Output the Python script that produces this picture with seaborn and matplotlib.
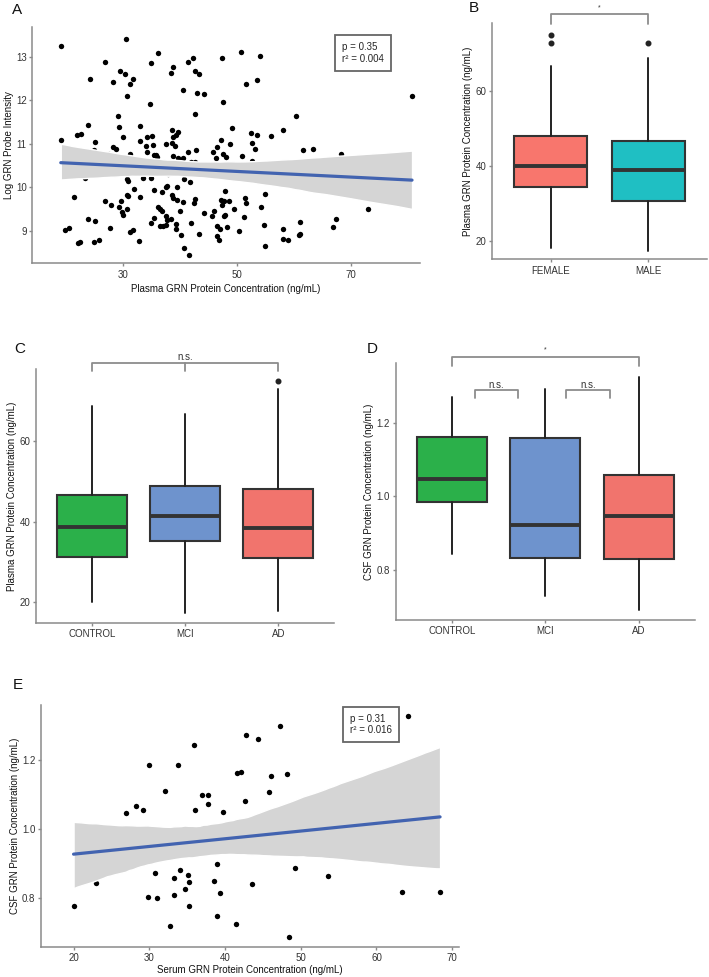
import numpy as np
import pandas as pd
import matplotlib
matplotlib.use('Agg')
import matplotlib.pyplot as plt
import seaborn as sns

# Panel A: plasma GRN vs log GRN probe intensity
a_plasma = [19.2, 30.6, 36.2, 26.8, 24.2, 29.5, 30.4, 31.2, 31.8, 28.2,
            30.7, 35.0, 38.5, 38.9, 41.5, 42.3, 42.7, 43.4, 40.5, 43.1,
            44.2, 47.4, 50.8, 54.1, 53.6, 51.7, 47.6, 34.7, 80.8, 60.4,
            42.6, 29.1, 29.3, 23.9, 33.0, 19.1, 21.9, 22.7, 30.0, 34.3,
            35.1, 38.6, 39.7, 38.8, 39.3, 49.2, 52.6, 53.5, 56.1, 58.1,
            25.1, 24.9, 28.3, 28.8, 31.2, 27.5, 33.0, 34.0, 34.3, 35.3,
            35.5, 36.0, 35.8, 37.5, 38.7, 39.1, 38.9, 39.7, 40.0, 40.6,
            41.5, 42.8, 42.0, 42.6, 45.8, 46.6, 47.2, 47.6, 48.2, 46.3,
            48.9, 50.9, 52.7, 53.2, 52.7, 61.7, 63.4, 68.4, 72.9, 23.3,
            33.5, 35.0, 30.8, 30.9, 38.0, 40.7, 41.8, 21.4, 31.9, 30.8,
            30.9, 33.0, 26.8, 29.7, 28.0, 29.4, 30.8, 29.9, 30.0, 35.4,
            36.8, 37.6, 37.8, 38.6, 39.5, 39.5, 40.6, 38.8, 36.2, 36.6,
            36.9, 35.4, 35.0, 36.5, 37.1, 37.5, 37.6, 37.7, 38.5, 39.3,
            39.3, 40.1, 40.2, 40.8, 41.6, 42.0, 42.5, 42.7, 43.4, 44.2,
            45.6, 46.1, 47.9, 47.3, 47.8, 47.4, 48.7, 49.6, 46.5, 47.0,
            46.6, 46.9, 47.7, 48.0, 48.3, 50.4, 51.2, 51.4, 51.7, 54.2,
            55.0, 54.8, 55.0, 58.1, 58.1, 59.0, 61.0, 61.2, 61.2, 66.9,
            67.4, 73.0, 19.8, 20.5, 22.2, 22.5, 23.9, 25.2, 25.0, 25.8,
            27.8, 31.2, 31.8, 32.9]
a_probe = [13.25, 13.40, 13.08, 12.87, 12.50, 12.68, 12.61, 12.38, 12.49, 12.41,
           12.10, 12.85, 12.62, 12.76, 12.87, 12.98, 12.67, 12.60, 12.24, 12.17,
           12.14, 12.98, 13.10, 13.02, 12.46, 12.37, 11.97, 11.91, 12.11, 11.64,
           11.69, 11.63, 11.38, 11.43, 11.42, 11.10, 11.20, 11.22, 11.16, 11.16,
           11.19, 11.31, 11.27, 11.16, 11.20, 11.36, 11.24, 11.20, 11.19, 11.32,
           11.05, 10.87, 10.93, 10.89, 10.77, 10.77, 11.06, 10.96, 10.81, 10.97,
           10.74, 10.69, 10.74, 11.00, 11.01, 10.95, 10.73, 10.67, 10.63, 10.67,
           10.81, 10.87, 10.59, 10.58, 10.81, 10.92, 11.08, 10.77, 10.69, 10.67,
           10.99, 10.73, 11.03, 10.89, 10.61, 10.87, 10.89, 10.76, 10.71, 10.22,
           10.22, 10.21, 10.20, 10.15, 10.32, 10.19, 10.13, 9.78, 9.97, 9.83,
           9.80, 9.79, 9.70, 9.70, 9.60, 9.56, 9.50, 9.44, 9.37, 9.95,
           9.89, 10.02, 10.03, 9.82, 10.02, 9.72, 9.67, 9.77, 9.55, 9.50,
           9.47, 9.31, 9.18, 9.12, 9.11, 9.13, 9.35, 9.25, 9.28, 9.05,
           9.16, 9.46, 8.91, 8.62, 8.46, 9.18, 9.64, 9.73, 8.94, 9.42,
           9.34, 9.46, 9.92, 9.72, 9.70, 9.60, 9.68, 9.51, 9.11, 9.04,
           8.89, 8.79, 9.34, 9.37, 9.10, 9.01, 9.32, 9.75, 9.64, 9.56,
           9.84, 9.14, 8.66, 9.04, 8.82, 8.80, 8.90, 8.94, 9.21, 9.10,
           9.28, 9.50, 9.02, 9.07, 8.73, 8.74, 9.28, 9.22, 8.75, 8.79,
           9.08, 8.98, 9.02, 8.77]

# Panel B: plasma GRN by sex (box summaries)
sex_groups = ['FEMALE', 'MALE']
sex_q1 = [34.3, 30.8]
sex_med = [40.0, 39.0]
sex_q3 = [48.0, 46.8]
sex_lo = [18.0, 17.4]
sex_hi = [66.7, 69.0]
sex_out = [[73.0, 74.9], [73.0]]

# Panels C/D: diagnosis groups
dx_groups = ['CONTROL', 'MCI', 'AD']
plasma_q1 = [31.3, 35.1, 31.0]
plasma_med = [38.7, 41.5, 38.4]
plasma_q3 = [46.6, 49.0, 48.2]
plasma_lo = [20.0, 17.3, 17.8]
plasma_hi = [68.9, 66.8, 72.9]
plasma_out = [[], [], [74.9]]

csf_q1 = [0.984, 0.832, 0.830]
csf_med = [1.047, 0.921, 0.947]
csf_q3 = [1.162, 1.159, 1.058]
csf_lo = [0.843, 0.729, 0.691]
csf_hi = [1.269, 1.292, 1.323]
csf_out = [[], [], []]

# Panel E: serum GRN vs CSF GRN
e_serum = [35.9, 30.0, 33.8, 32.1, 37.0, 37.8, 37.8, 28.2, 29.2, 26.9,
           36.0, 39.8, 31.5, 39.0, 25.0, 30.8, 34.1, 35.1, 33.2, 35.3,
           38.5, 34.7, 22.9, 39.4, 29.8, 31.0, 33.2, 35.3, 20.0, 39.0,
           32.8, 64.1, 47.3, 42.8, 44.4, 41.6, 42.1, 46.1, 48.2, 45.8,
           42.6, 50.1, 49.3, 53.6, 43.5, 63.4, 63.4, 68.4, 41.4, 48.4]
e_csf = [1.243, 1.184, 1.185, 1.111, 1.097, 1.097, 1.072, 1.068, 1.056, 1.047,
         1.055, 1.048, 0.921, 0.900, 0.878, 0.873, 0.883, 0.869, 0.858, 0.847,
         0.849, 0.828, 0.845, 0.816, 0.803, 0.800, 0.810, 0.778, 0.777, 0.748,
         0.720, 1.326, 1.296, 1.272, 1.259, 1.163, 1.166, 1.154, 1.159, 1.107,
         1.080, 0.946, 0.888, 0.865, 0.843, 0.905, 0.818, 0.818, 0.727, 0.689]

sex_colors = ['#F8766D', '#1FBFC3']
dx_colors = ['#2BB04A', '#6E93CD', '#F1746D']

sns.set_style('ticks')
plt.rcParams['font.family'] = ['Liberation Sans', 'DejaVu Sans']
plt.rcParams.update({
    'font.size': 7,
    'axes.edgecolor': '#8a8a8a',
    'axes.linewidth': 1.1,
    'xtick.color': '#8a8a8a',
    'ytick.color': '#8a8a8a',
    'xtick.labelcolor': '#333333',
    'ytick.labelcolor': '#333333',
    'xtick.labelsize': 7,
    'ytick.labelsize': 7,
    'xtick.major.size': 2.5,
    'ytick.major.size': 2.5,
    'xtick.major.width': 1,
    'ytick.major.width': 1,
    'xtick.major.pad': 2,
    'ytick.major.pad': 1.5,
    'axes.labelsize': 7,
    'axes.labelcolor': '#111111',
    'axes.labelpad': 2,
})

W, H = 709, 977
fig = plt.figure(figsize=(W / 100, H / 100), dpi=100)


def px_axes(x0, y0, x1, y1):
    return fig.add_axes([x0 / W, 1 - y1 / H, (x1 - x0) / W, (y1 - y0) / H])


def scatter_fit(ax, x, y, xname, yname):
    df = pd.DataFrame({xname: x, yname: y})
    sns.regplot(data=df, x=xname, y=yname, ax=ax,
                scatter_kws=dict(s=15, color='black', linewidths=0, alpha=1),
                line_kws=dict(color='#4263B0', lw=2.3))
    band = ax.collections[1]
    band.set_facecolor('#D5D5D5')
    band.set_alpha(1)
    sns.despine(ax=ax)


def box_panel(ax, labels, q1, med, q3, lo, hi, out, colors):
    stats = []
    for i, lab in enumerate(labels):
        stats.append(dict(label=lab, q1=q1[i], med=med[i], q3=q3[i],
                          whislo=lo[i], whishi=hi[i], fliers=out[i]))
    res = ax.bxp(stats, positions=range(len(labels)), widths=0.75,
                 patch_artist=True, showcaps=False,
                 boxprops=dict(edgecolor='#333333', linewidth=1.5),
                 medianprops=dict(color='#333333', linewidth=2.8),
                 whiskerprops=dict(color='#222222', linewidth=1.4),
                 flierprops=dict(marker='o', markerfacecolor='#222222',
                                 markeredgecolor='#222222', markersize=3.3))
    for patch, c in zip(res['boxes'], colors):
        patch.set_facecolor(c)
    ax.set_xlim(-0.6, len(labels) - 0.4)
    ax.set_xticks(range(len(labels)))
    ax.set_xticklabels(labels)
    sns.despine(ax=ax)


def bracket(ax, x0, x1, ytop, ybot, mid=False):
    kw = dict(color='#8c8c8c', lw=1.3, clip_on=False)
    ax.plot([x0, x0, x1, x1], [ybot, ytop, ytop, ybot], **kw)
    if mid:
        ax.plot([(x0 + x1) / 2] * 2, [ytop, ybot], **kw)


# A
axA = px_axes(32.3, 26.7, 420, 263.3)
scatter_fit(axA, a_plasma, a_probe, 'plasma', 'probe')
axA.set_xlim(14.1, 82.2)
axA.set_ylim(8.26, 13.69)
axA.set_xticks([30, 50, 70])
axA.set_yticks([9, 10, 11, 12, 13])
axA.set_xlabel('Plasma GRN Protein Concentration (ng/mL)', labelpad=3)
axA.set_ylabel('Log GRN Probe Intensity', labelpad=1.5)
axA.text(0.853, 0.889, 'p = 0.35\nr² = 0.004', transform=axA.transAxes,
         ha='center', va='center', multialignment='left', fontsize=7,
         bbox=dict(boxstyle='square,pad=0.7', fc='white', ec='#666666', lw=1.3))

# B
axB = px_axes(492.3, 22.7, 706.7, 259.3)
box_panel(axB, sex_groups, sex_q1, sex_med, sex_q3, sex_lo, sex_hi, sex_out, sex_colors)
axB.set_ylim(15.1, 78.3)
axB.set_yticks([20, 40, 60])
axB.set_ylabel('Plasma GRN Protein Concentration (ng/mL)')
bracket(axB, 0, 1, 80.6, 78.0)
axB.text(0.5, 81.4, '*', ha='center', va='bottom', fontsize=5, color='#333333')

# C
axC = px_axes(36, 369, 334.3, 622.7)
box_panel(axC, dx_groups, plasma_q1, plasma_med, plasma_q3, plasma_lo, plasma_hi,
          plasma_out, dx_colors)
axC.set_ylim(14.85, 78.0)
axC.set_yticks([20, 40, 60])
axC.set_ylabel('Plasma GRN Protein Concentration (ng/mL)', labelpad=1.5)
bracket(axC, 0, 2, 79.4, 77.6, mid=True)
axC.text(1, 80.9, 'n.s.', ha='center', va='center', fontsize=7, color='#333333')

# D
axD = px_axes(395.7, 363.3, 695, 620)
box_panel(axD, dx_groups, csf_q1, csf_med, csf_q3, csf_lo, csf_hi, csf_out, dx_colors)
axD.set_ylim(0.664, 1.361)
axD.set_yticks([0.8, 1.0, 1.2])
axD.set_ylabel('CSF GRN Protein Concentration (ng/mL)')
bracket(axD, 0, 2, 1.379, 1.354)
axD.text(1, 1.388, '*', ha='center', va='bottom', fontsize=5, color='#333333')
for x0, x1 in [(0.244, 0.703), (1.226, 1.686)]:
    bracket(axD, x0, x1, 1.289, 1.267)
    axD.text((x0 + x1) / 2, 1.303, 'n.s.', ha='center', va='center', fontsize=7,
             color='#333333')

# E
axE = px_axes(41, 705, 459, 947)
scatter_fit(axE, e_serum, e_csf, 'serum', 'csf')
axE.set_xlim(15.7, 70.9)
axE.set_ylim(0.660, 1.358)
axE.set_xticks([20, 30, 40, 50, 60, 70])
axE.set_yticks([0.8, 1.0, 1.2])
axE.set_xlabel('Serum GRN Protein Concentration (ng/mL)', labelpad=1)
axE.set_ylabel('CSF GRN Protein Concentration (ng/mL)', labelpad=1.5)
axE.text(0.789, 0.919, 'p = 0.31\nr² = 0.016', transform=axE.transAxes,
         ha='center', va='center', multialignment='left', fontsize=7,
         bbox=dict(boxstyle='square,pad=0.7', fc='white', ec='#666666', lw=1.3))

# panel letters
for lab, x, y in [('A', 17, 10), ('B', 474, 8), ('C', 20, 349), ('D', 372, 349), ('E', 18, 685)]:
    fig.text(x / W, 1 - y / H, lab, ha='center', va='center', fontsize=11, color='#111111')

fig.savefig('out.png', dpi=100)
